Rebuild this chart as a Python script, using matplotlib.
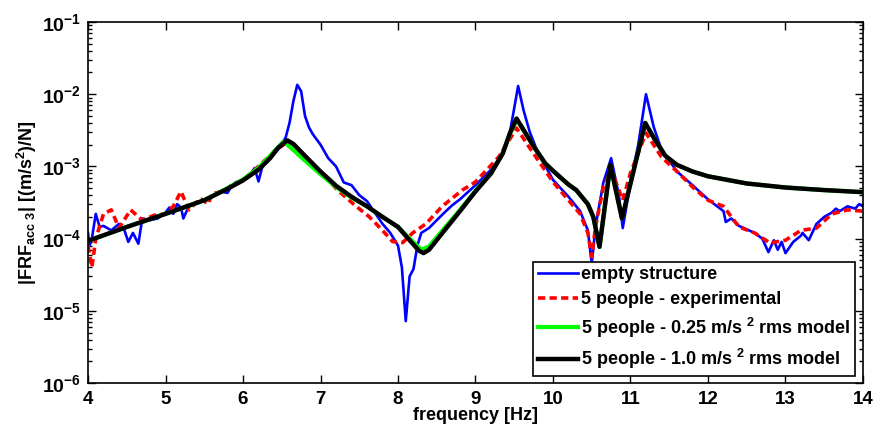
import numpy as np
import matplotlib.pyplot as plt

plt.rcParams['font.family'] = ['Liberation Sans', 'DejaVu Sans']
plt.rcParams['font.weight'] = 'bold'
plt.rcParams['mathtext.fontset'] = 'custom'
plt.rcParams['mathtext.rm'] = 'Liberation Sans:bold'
plt.rcParams['mathtext.bf'] = 'Liberation Sans:bold'
plt.rcParams['mathtext.default'] = 'bf'

# empty structure (measured)
f_empty = [4.0, 4.02, 4.05, 4.1, 4.15, 4.2, 4.3, 4.4, 4.47, 4.52, 4.58, 4.65, 4.7, 4.8,
           4.9, 5.0, 5.05, 5.1, 5.15, 5.2, 5.23, 5.3, 5.4, 5.5, 5.6, 5.7, 5.8, 5.85, 5.9,
           6.0, 6.1, 6.15, 6.2, 6.25, 6.35, 6.45, 6.55, 6.6, 6.65, 6.7, 6.75, 6.8, 6.85,
           6.9, 7.0, 7.1, 7.2, 7.3, 7.4, 7.5, 7.6, 7.7, 7.8, 7.9, 8.0, 8.05, 8.1, 8.15,
           8.2, 8.25, 8.3, 8.4, 8.5, 8.6, 8.7, 8.8, 9.0, 9.2, 9.35, 9.45, 9.55, 9.62, 9.7,
           9.8, 10.0, 10.2, 10.35, 10.45, 10.5, 10.55, 10.65, 10.75, 10.85, 10.9, 11.0,
           11.1, 11.2, 11.3, 11.4, 11.6, 11.8, 12.0, 12.2, 12.23, 12.3, 12.4, 12.6, 12.7,
           12.78, 12.85, 12.9, 12.95, 13.0, 13.1, 13.2, 13.22, 13.3, 13.4, 13.5, 13.6,
           13.65, 13.7, 13.8, 13.9, 13.95, 14.0]
a_empty = [1.2e-4, 8e-5, 1.0e-4, 2.2e-4, 1.45e-4, 1.5e-4, 1.3e-4, 1.6e-4, 1.3e-4, 9e-5,
           1.2e-4, 8.5e-5, 1.9e-4, 1.8e-4, 1.9e-4, 2.3e-4, 2.7e-4, 2.2e-4, 3.0e-4, 2.7e-4,
           1.9e-4, 2.8e-4, 3.2e-4, 3.3e-4, 3.8e-4, 4.5e-4, 4.3e-4, 5.3e-4, 6.0e-4, 6.5e-4,
           8e-4, 9.5e-4, 6.2e-4, 1.0e-3, 1.3e-3, 1.7e-3, 2.5e-3, 4.0e-3, 8e-3, 1.35e-2,
           1.1e-2, 5e-3, 3.5e-3, 2.8e-3, 2.0e-3, 1.3e-3, 1.0e-3, 6.0e-4, 5.5e-4, 4.0e-4,
           3.3e-4, 2.3e-4, 1.6e-4, 1.2e-4, 8e-5, 4e-5, 7.2e-6, 3e-5, 3.8e-5, 8e-5, 1.2e-4,
           1.4e-4, 1.8e-4, 2.3e-4, 2.9e-4, 3.5e-4, 5.5e-4, 9e-4, 1.5e-3, 3.2e-3, 1.3e-2,
           6e-3, 3.0e-3, 1.6e-3, 6.5e-4, 3.8e-4, 2.4e-4, 1.3e-4, 4.5e-5, 1.5e-4, 6e-4,
           1.3e-3, 4e-4, 1.4e-4, 6e-4, 2e-3, 1.0e-2, 3.5e-3, 1.7e-3, 8.5e-4, 5.5e-4, 3.5e-4,
           2.4e-4, 1.7e-4, 1.9e-4, 1.5e-4, 1.2e-4, 1.0e-4, 6.5e-5, 9.5e-5, 7e-5, 9e-5,
           6.3e-5, 9e-5, 1.1e-4, 1.2e-4, 9.5e-5, 1.6e-4, 2.0e-4, 2.3e-4, 2.6e-4, 2.4e-4,
           2.8e-4, 2.6e-4, 3.0e-4, 2.8e-4]

# 5 people - experimental
f_exp = [4.0, 4.05, 4.1, 4.2, 4.3, 4.4, 4.55, 4.7, 4.85, 5.0, 5.1, 5.2, 5.3, 5.45, 5.55,
         5.6, 5.75, 5.85, 6.0, 6.2, 6.4, 6.55, 6.7, 7.0, 7.22, 7.46, 7.63, 7.8, 7.93, 8.06,
         8.19, 8.36, 8.57, 8.83, 9.0, 9.3, 9.53, 9.7, 10.0, 10.2, 10.35, 10.45, 10.5,
         10.55, 10.65, 10.75, 10.9, 11.0, 11.2, 11.4, 11.6, 11.8, 12.0, 12.2, 12.4, 12.6,
         12.8, 13.0, 13.2, 13.4, 13.6, 13.8, 14.0]
a_exp = [8e-5, 4e-5, 1.0e-4, 2.2e-4, 2.5e-4, 1.4e-4, 2.5e-4, 1.8e-4, 2.1e-4, 2.2e-4,
         2.8e-4, 4.5e-4, 2.5e-4, 3.6e-4, 3.0e-4, 4.2e-4, 4.5e-4, 5.5e-4, 6.5e-4, 1.0e-3,
         1.6e-3, 2.1e-3, 1.5e-3, 8.5e-4, 4.7e-4, 2.8e-4, 2.0e-4, 1.3e-4, 9.1e-5, 8.8e-5,
         1.2e-4, 1.6e-4, 2.8e-4, 4.7e-4, 6.1e-4, 1.35e-3, 3.4e-3, 1.8e-3, 6.1e-4, 3.4e-4,
         2.2e-4, 1.2e-4, 5.6e-5, 1.5e-4, 5.2e-4, 9e-4, 3.4e-4, 8.1e-4, 2.9e-3, 1.35e-3,
         8.5e-4, 5.2e-4, 3.4e-4, 2.8e-4, 1.45e-4, 1.2e-4, 8.7e-5, 9.5e-5, 1.3e-4, 1.4e-4,
         2.2e-4, 2.5e-4, 2.4e-4]

# 5 people - 1.0 m/s^2 rms model
f_m10 = [4.0, 4.5, 5.0, 5.5, 5.8, 6.0, 6.2, 6.35, 6.45, 6.57, 6.65, 6.8, 7.0, 7.2, 7.4,
         7.6, 7.8, 8.0, 8.15, 8.27, 8.33, 8.4, 8.6, 8.8, 9.0, 9.2, 9.35, 9.45, 9.53, 9.62,
         9.75, 9.9, 10.0, 10.2, 10.3, 10.45, 10.52, 10.6, 10.74, 10.89, 11.19, 11.3, 11.45,
         11.6, 11.8, 12.0, 12.5, 13.0, 13.5, 14.0]
a_m10 = [9.3e-5, 1.45e-4, 2.2e-4, 3.4e-4, 4.9e-4, 6.4e-4, 9.0e-4, 1.3e-3, 1.8e-3, 2.3e-3,
         2.05e-3, 1.4e-3, 8.5e-4, 5.4e-4, 3.8e-4, 2.8e-4, 2.0e-4, 1.45e-4, 9.5e-5, 6.8e-5,
         6.3e-5, 7.0e-5, 1.3e-4, 2.4e-4, 4.5e-4, 8.0e-4, 1.5e-3, 3.0e-3, 4.6e-3, 3.2e-3,
         1.9e-3, 1.1e-3, 8.7e-4, 5.6e-4, 4.7e-4, 3.0e-4, 2.0e-4, 7.7e-5, 1.05e-3, 1.9e-4,
         4.0e-3, 2.5e-3, 1.4e-3, 1.05e-3, 8.5e-4, 7.3e-4, 5.8e-4, 5.1e-4, 4.7e-4, 4.4e-4]

# 5 people - 0.25 m/s^2 rms model
f_m025 = [4.0, 4.5, 5.0, 5.5, 5.8, 6.0, 6.2, 6.35, 6.52, 6.6, 6.8, 7.0, 7.2, 7.4, 7.6,
          7.8, 8.0, 8.15, 8.3, 8.4, 8.6, 8.8, 9.0, 9.2, 9.35, 9.45, 9.53, 9.62, 9.75, 9.9,
          10.0, 10.2, 10.3, 10.45, 10.52, 10.6, 10.74, 10.89, 11.19, 11.3, 11.45, 11.6,
          11.8, 12.0, 12.5, 13.0, 13.5, 14.0]
a_m025 = [9.3e-5, 1.45e-4, 2.2e-4, 3.4e-4, 5.0e-4, 6.6e-4, 9.5e-4, 1.4e-3, 2.2e-3,
          1.9e-3, 1.2e-3, 7.8e-4, 5.2e-4, 3.7e-4, 2.8e-4, 2.0e-4, 1.45e-4, 1.0e-4, 7.0e-5,
          7.8e-5, 1.4e-4, 2.5e-4, 4.6e-4, 8.0e-4, 1.5e-3, 2.9e-3, 4.4e-3, 3.2e-3, 1.9e-3,
          1.1e-3, 8.7e-4, 5.6e-4, 4.7e-4, 3.0e-4, 2.0e-4, 7.7e-5, 1.05e-3, 1.9e-4, 4.0e-3,
          2.5e-3, 1.4e-3, 1.05e-3, 8.5e-4, 7.3e-4, 5.8e-4, 5.1e-4, 4.7e-4, 4.4e-4]

labels = ['empty structure', '5 people - experimental',
          r'5 people - 0.25 m/s $^{2}$ rms model', r'5 people - 1.0 m/s $^{2}$ rms model']

fig = plt.figure(figsize=(8.74, 4.30), dpi=100)
ax = fig.add_axes([0.1007, 0.1093, 0.8867, 0.8395])

ax.plot(f_empty, a_empty, color='#0000ff', lw=1.9, label=labels[0])
ax.plot(f_exp, a_exp, color='#ff0000', lw=2.6, ls=(0, (2.0, 1.2)), label=labels[1])
ax.plot(f_m025, a_m025, color='#00ff00', lw=3.0, label=labels[2])
ax.plot(f_m10, a_m10, color='black', lw=3.2, label=labels[3])

ax.set_yscale('log')
ax.set_xlim(4, 14)
ax.set_ylim(1e-6, 1e-1)
ax.set_xticks(range(4, 15))
ax.set_xticklabels([str(v) for v in range(4, 15)])
yt = [1e-6, 1e-5, 1e-4, 1e-3, 1e-2, 1e-1]
ax.set_yticks(yt)
ax.set_yticklabels([r'$10^{%d}$' % int(np.log10(v)) for v in yt])
ax.tick_params(which='both', direction='in', top=True, right=True, width=1)
ax.tick_params(axis='x', labelsize=13.5, pad=6)
ax.tick_params(axis='y', labelsize=14, pad=5)
ax.tick_params(which='major', length=6)
ax.tick_params(which='minor', length=3)
for s in ax.spines.values():
    s.set_linewidth(1.2)

ax.set_xlabel('frequency [Hz]', fontsize=13, fontweight='bold', labelpad=-1)
ax.set_ylabel(r'|FRF$_{\rm acc\ 3}$| [(m/s$^{2}$)/N]', fontsize=13, fontweight='bold', labelpad=2)

leg = ax.legend(loc='lower right', bbox_to_anchor=(0.99, 0.02), borderaxespad=0, fontsize=13,
                fancybox=False, framealpha=1, edgecolor='black', handlelength=2.2,
                handletextpad=0.2, labelspacing=0.42, borderpad=0.25)
leg.get_frame().set_linewidth(1.2)

plt.savefig('out.png', dpi=100)
